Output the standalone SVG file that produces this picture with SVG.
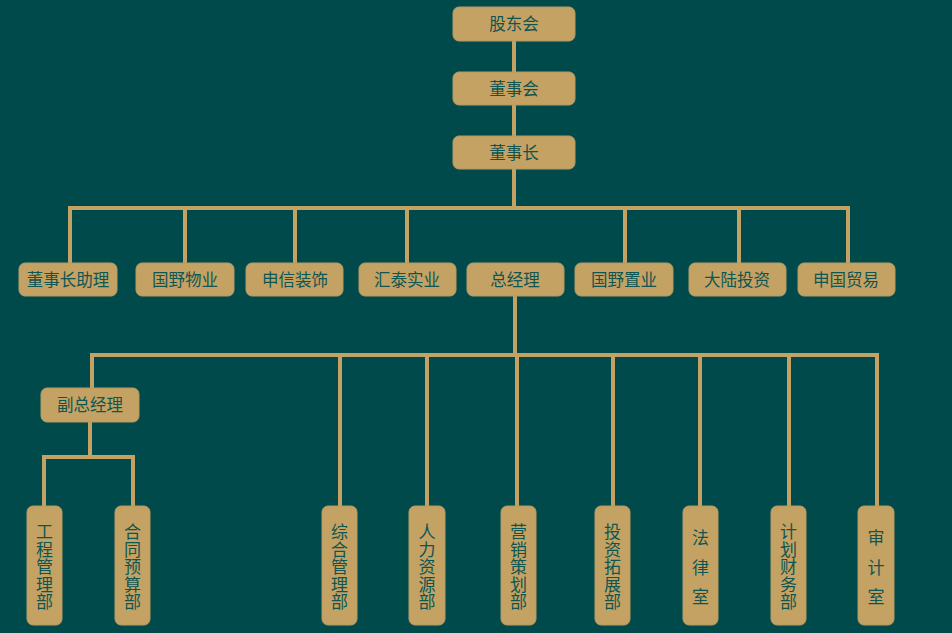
<svg xmlns="http://www.w3.org/2000/svg" width="952" height="633" viewBox="0 0 952 633">
<style>
.bg{fill:#014a4c}
.box{fill:#c4a263;stroke:#b59a62;stroke-width:1}
.t{font-family:"Noto Sans CJK SC","Noto Sans",sans-serif;font-size:16.5px;fill:#0f5552;text-anchor:middle}
.v{font-family:"Noto Sans CJK SC","Noto Sans",sans-serif;font-size:17px;fill:#0f5552;text-anchor:middle;writing-mode:vertical-rl;letter-spacing:0.5px}
.v3{letter-spacing:12.5px}
.ln{fill:none;stroke:#c4a263;stroke-width:4}
</style>
<rect class="bg" x="0" y="0" width="952" height="633"/>
<g id="connectors">
<path class="ln" d="M514 41V72M514 105V136M514 169V208M70 263V208H848V263M185 208V263M295 208V263M407 208V263M625 208V263M739 208V263"/>
<path class="ln" d="M515 296V355M92 388V355H877V506M340 355V506M427 355V506M517 355V506M613 355V506M700 355V506M789 355V506"/>
<path class="ln" d="M90 422V457M44 506V457H133V506"/>
</g>
<g id="n-gudonghui"><rect class="box" x="453" y="7" width="122" height="34" rx="6"/><text class="t" x="514" y="30">股东会</text></g>
<g id="n-dongshihui"><rect class="box" x="453" y="72" width="122" height="33" rx="6"/><text class="t" x="514" y="95">董事会</text></g>
<g id="n-dongshizhang"><rect class="box" x="453" y="136" width="122" height="33" rx="6"/><text class="t" x="514" y="159">董事长</text></g>
<g id="n-zhuli"><rect class="box" x="19" y="263" width="98" height="33" rx="6"/><text class="t" x="68" y="286">董事长助理</text></g>
<g id="n-guoyewuye"><rect class="box" x="136" y="263" width="98" height="33" rx="6"/><text class="t" x="185" y="286">国野物业</text></g>
<g id="n-shenxin"><rect class="box" x="246" y="263" width="97" height="33" rx="6"/><text class="t" x="295" y="286">申信装饰</text></g>
<g id="n-huitai"><rect class="box" x="359" y="263" width="97" height="33" rx="6"/><text class="t" x="407" y="286">汇泰实业</text></g>
<g id="n-zongjingli"><rect class="box" x="467" y="263" width="97" height="33" rx="6"/><text class="t" x="515" y="286">总经理</text></g>
<g id="n-guoyezhiye"><rect class="box" x="575" y="263" width="98" height="33" rx="6"/><text class="t" x="624" y="286">国野置业</text></g>
<g id="n-dalu"><rect class="box" x="689" y="263" width="97" height="33" rx="6"/><text class="t" x="737" y="286">大陆投资</text></g>
<g id="n-shenguo"><rect class="box" x="798" y="263" width="97" height="33" rx="6"/><text class="t" x="846" y="286">申国贸易</text></g>
<g id="n-fuzong"><rect class="box" x="41" y="388" width="98" height="34" rx="6"/><text class="t" x="90" y="411">副总经理</text></g>
<g id="n-gongcheng"><rect class="box" x="27" y="506" width="35" height="119" rx="6"/><text class="v" x="44.5" y="567">工程管理部</text></g>
<g id="n-hetong"><rect class="box" x="115" y="506" width="35" height="119" rx="6"/><text class="v" x="132.5" y="567">合同预算部</text></g>
<g id="n-zonghe"><rect class="box" x="322" y="506" width="35" height="119" rx="6"/><text class="v" x="339.5" y="567">综合管理部</text></g>
<g id="n-renli"><rect class="box" x="409" y="506" width="36" height="119" rx="6"/><text class="v" x="427" y="567">人力资源部</text></g>
<g id="n-yingxiao"><rect class="box" x="501" y="506" width="35" height="119" rx="6"/><text class="v" x="518.5" y="567">营销策划部</text></g>
<g id="n-touzi"><rect class="box" x="595" y="506" width="35" height="119" rx="6"/><text class="v" x="612.5" y="567">投资拓展部</text></g>
<g id="n-falv"><rect class="box" x="683" y="506" width="35" height="119" rx="6"/><text class="v v3" x="700.5" y="573.5">法律室</text></g>
<g id="n-caiwu"><rect class="box" x="771" y="506" width="35" height="119" rx="6"/><text class="v" x="788.5" y="567">计划财务部</text></g>
<g id="n-shenji"><rect class="box" x="858" y="506" width="36" height="119" rx="6"/><text class="v v3" x="876" y="573.5">审计室</text></g>
</svg>
